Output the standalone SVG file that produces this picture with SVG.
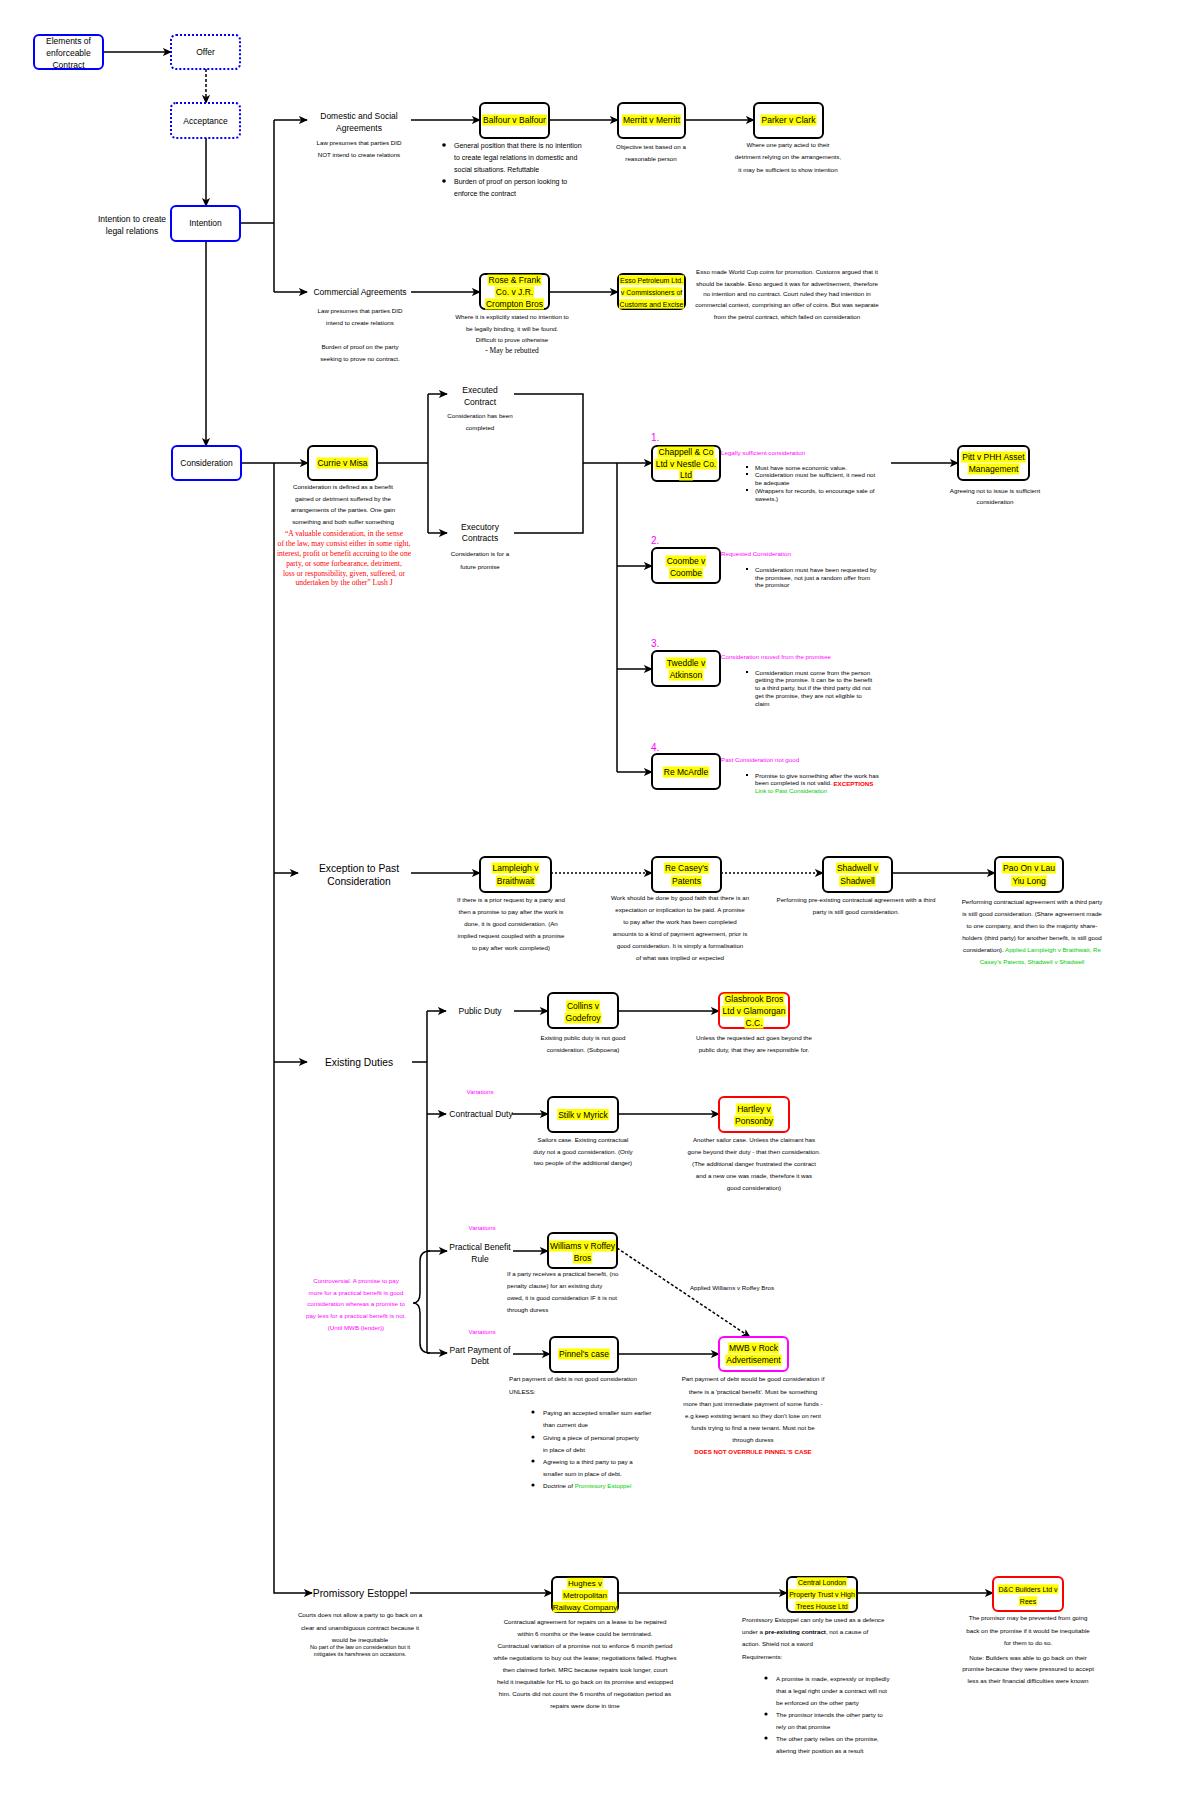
<svg xmlns="http://www.w3.org/2000/svg" width="1200" height="1800" viewBox="0 0 1200 1800">
<style>
text{font-family:"Liberation Sans",Arial,sans-serif;font-size:8.5px;text-anchor:middle;dominant-baseline:central;fill:#000}
.n{fill:#fff;stroke:#000;stroke-width:2}
.bl{fill:#fff;stroke:#0000ff;stroke-width:2}
.dot{stroke-dasharray:2,2}
.red{stroke:#ff0000}
.mag{stroke:#ff00ff}
.hl{fill:#ffff00}
.d{font-size:6.2px}
.s{text-anchor:start}
.big{font-size:10.3px}
.m{fill:#ff00ff}
.g{fill:#00cc00}
.r{fill:#ff0000}
.q{font-family:"Liberation Serif","Times New Roman",serif;font-size:7.6px;fill:#ff0000}
.c{fill:none;stroke:#000;stroke-width:1.5}
.ca{fill:none;stroke:#000;stroke-width:1.5;marker-end:url(#a)}
</style>
<defs>
<marker id="a" viewBox="0 0 10 10" refX="9" refY="5" markerWidth="9" markerHeight="9" markerUnits="userSpaceOnUse" orient="auto"><path d="M0,0.5 L10,5 L0,9.5 L2.5,5 z" fill="#000"/></marker>
</defs>
<rect width="1200" height="1800" fill="#fff"/>

<g id="connectors">
<path class="ca" d="M103,52 H171"/>
<path class="ca" d="M206,69 V103" stroke-dasharray="3,2"/>
<path class="ca" d="M206,138 V206"/>
<path class="c" d="M240,223 H274 M274,120 V292"/>
<path class="ca" d="M274,120 H307"/>
<path class="ca" d="M274,292 H307"/>
<path class="ca" d="M411,120 H480"/>
<path class="ca" d="M549,120 H618"/>
<path class="ca" d="M685,120 H754"/>
<path class="ca" d="M411,292 H480"/>
<path class="ca" d="M549,292 H618"/>
<path class="ca" d="M206,241 V446"/>
<path class="ca" d="M241,463 H308"/>
<path class="ca" d="M274,463 V1593 H312"/>
<path class="ca" d="M274,873 H298"/>
<path class="ca" d="M274,1062 H307"/>
<path class="c" d="M377,463 H428 M428,394 V533"/>
<path class="ca" d="M428,394 H447"/>
<path class="ca" d="M428,533 H447"/>
<path class="c" d="M514,394 H583 V533 H514"/>
<path class="ca" d="M583,463 H652"/>
<path class="c" d="M617,463 V772"/>
<path class="ca" d="M617,566 H652"/>
<path class="ca" d="M617,669 H652"/>
<path class="ca" d="M617,772 H652"/>
<path class="ca" d="M891,463 H958"/>
<path class="ca" d="M411,873 H480"/>
<path class="ca" d="M551,873 H652" stroke-dasharray="2,2"/>
<path class="ca" d="M721,873 H823" stroke-dasharray="2,2"/>
<path class="ca" d="M892,873 H995"/>
<path class="c" d="M412,1062 H427 M427,1011 V1353"/>
<path class="ca" d="M427,1011 H446"/>
<path class="ca" d="M427,1114 H446"/>
<path class="ca" d="M427,1251 H447"/>
<path class="ca" d="M427,1353 H447"/>
<path class="c" d="M430,1251 Q420,1251 420,1261 L420,1293 Q420,1303 413,1303 Q420,1303 420,1313 L420,1343 Q420,1353 430,1353"/>
<path class="ca" d="M514,1011 H548"/>
<path class="ca" d="M618,1011 H719"/>
<path class="ca" d="M512,1114 H548"/>
<path class="ca" d="M618,1114 H719"/>
<path class="ca" d="M513,1251 H548"/>
<path class="ca" d="M617,1248 L750,1337" stroke-dasharray="3,2"/>
<text x="732" y="1287" class="d">Applied Williams v Roffey Bros</text>
<path class="ca" d="M513,1354 H550"/>
<path class="ca" d="M618,1354 H719"/>
<path class="ca" d="M410,1593 H552"/>
<path class="ca" d="M618,1593 H787"/>
<path class="ca" d="M857,1593 H993"/>
</g>

<g id="elements">
<rect class="bl" x="34" y="35" width="69" height="34" rx="5"/>
<text x="68.5" y="41">Elements of</text><text x="68.5" y="53">enforceable</text><text x="68.5" y="64.5">Contract</text>
</g>
<g id="offer">
<rect class="bl dot" x="171" y="35" width="69" height="34" rx="5"/>
<text x="205.5" y="52">Offer</text>
</g>
<g id="acceptance">
<rect class="bl dot" x="171" y="103" width="69" height="35" rx="5"/>
<text x="205.5" y="121">Acceptance</text>
</g>
<g id="intention">
<rect class="bl" x="171" y="206" width="69" height="35" rx="5"/>
<text x="205.5" y="223">Intention</text>
<text x="132" y="219">Intention to create</text><text x="132" y="231">legal relations</text>
</g>
<g id="consideration">
<rect class="bl" x="172" y="446" width="69" height="34" rx="5"/>
<text x="206.5" y="463">Consideration</text>
</g>

<g id="domestic">
<text x="359" y="116">Domestic and Social</text><text x="359" y="128">Agreements</text>
<text class="d" x="359" y="142">Law presumes that parties DID</text><text class="d" x="359" y="154">NOT intend to create relations</text>
</g>
<g id="commercial">
<text x="360" y="292">Commercial Agreements</text>
<text class="d" x="360" y="310">Law presumes that parties DID</text><text class="d" x="360" y="322">intend to create relations</text>
<text class="d" x="360" y="346">Burden of proof on the party</text><text class="d" x="360" y="358">seeking to prove no contract.</text>
</g>

<g id="balfour">
<rect class="n" x="480" y="103" width="69" height="35" rx="5"/>
<rect class="hl" x="482" y="114.5" width="65" height="11"/>
<text x="514.5" y="120">Balfour v Balfour</text>
<circle cx="444" cy="145" r="1.8"/><circle cx="444" cy="181" r="1.8"/>
<text class="s" x="454" y="145" style="font-size:7px">General position that there is no intention</text>
<text class="s" x="454" y="157" style="font-size:7px">to create legal relations in domestic and</text>
<text class="s" x="454" y="169" style="font-size:7px">social situations. Refuttable</text>
<text class="s" x="454" y="181" style="font-size:7px">Burden of proof on person looking to</text>
<text class="s" x="454" y="193" style="font-size:7px">enforce the contract</text>
</g>
<g id="merritt">
<rect class="n" x="618" y="103" width="67" height="35" rx="5"/>
<rect class="hl" x="622" y="114.5" width="59" height="11"/>
<text x="651.5" y="120">Merritt v Merritt</text>
<text class="d" x="651" y="146">Objective test based on a</text><text class="d" x="651" y="158">reasonable person</text>
</g>
<g id="parker">
<rect class="n" x="754" y="103" width="69" height="35" rx="5"/>
<rect class="hl" x="760.6" y="114.5" width="56" height="11"/>
<text x="788.5" y="120">Parker v Clark</text>
<text class="d" x="788" y="144">Where one party acted to their</text>
<text class="d" x="788" y="156">detriment relying on the arrangements,</text>
<text class="d" x="788" y="169">it may be sufficient to show intention</text>
</g>
<g id="rose">
<rect class="n" x="480" y="274" width="69" height="35" rx="5"/>
<rect class="hl" x="487.5" y="274.5" width="54" height="11"/>
<rect class="hl" x="494.9" y="286.5" width="39.3" height="11"/>
<rect class="hl" x="485" y="298.5" width="59" height="11"/>
<text x="514.5" y="280">Rose &amp; Frank</text><text x="514.5" y="292">Co. v J.R.</text><text x="514.5" y="304">Crompton Bros</text>
<text class="d" x="512" y="316">Where it is explicitly stated no intention to</text>
<text class="d" x="512" y="328">be legally binding, it will be found.</text>
<text class="d" x="512" y="339">Difficult to prove otherwise</text>
<text x="512" y="350" style="font-family:'Liberation Serif','Times New Roman',serif;font-size:7.5px">- May be rebutted</text>
</g>
<g id="esso">
<rect class="n" x="618" y="274" width="67" height="35" rx="5"/>
<rect class="hl" x="619" y="275.3" width="65" height="9.4"/>
<rect class="hl" x="621" y="287.3" width="61" height="9.4"/>
<rect class="hl" x="619" y="299.3" width="65" height="9.4"/>
<text x="651.5" y="280" style="font-size:7px">Esso Petroleum Ltd.</text>
<text x="651.5" y="292" style="font-size:7px">v Commissioners of</text>
<text x="651.5" y="304" style="font-size:7px">Customs and Excise</text>
<text class="d" x="787" y="271">Esso made World Cup coins for promotion. Customs argued that it</text>
<text class="d" x="787" y="283">should be taxable. Esso argued it was for advertisement, therefore</text>
<text class="d" x="787" y="293">no intention and no contract. Court ruled they had intention in</text>
<text class="d" x="787" y="304">commercial context, comprising an offer of coins. But was separate</text>
<text class="d" x="787" y="316">from the petrol contract, which failed on consideration</text>
</g>

<g id="currie">
<rect class="n" x="308" y="446" width="69" height="34" rx="5"/>
<rect class="hl" x="316.5" y="457.5" width="52" height="11"/>
<text x="342.5" y="463">Currie v Misa</text>
<text class="d" x="343" y="486">Consideration is defined as a benefit</text>
<text class="d" x="343" y="498">gained or detriment suffered by the</text>
<text class="d" x="343" y="509">arrangements of the parties. One gain</text>
<text class="d" x="343" y="521">something and both suffer something</text>
<text class="q" x="344" y="533">“A valuable consideration, in the sense</text>
<text class="q" x="344" y="543">of the law, may consist either in some right,</text>
<text class="q" x="344" y="553">interest, profit or benefit accruing to the one</text>
<text class="q" x="344" y="563">party, or some forbearance, detriment,</text>
<text class="q" x="344" y="573">loss or responsibility, given, suffered, or</text>
<text class="q" x="344" y="582">undertaken by the other” Lush J</text>
</g>
<g id="executed">
<text x="480" y="390">Executed</text><text x="480" y="402">Contract</text>
<text class="d" x="480" y="415">Consideration has been</text><text class="d" x="480" y="427">completed</text>
</g>
<g id="executory">
<text x="480" y="527">Executory</text><text x="480" y="538">Contracts</text>
<text class="d" x="480" y="553">Consideration is for a</text><text class="d" x="480" y="566">future promise</text>
</g>

<g id="chappell">
<text class="s m" x="651" y="437" style="font-size:10px">1.</text>
<rect class="n" x="652" y="446" width="68" height="35" rx="5"/>
<rect class="hl" x="657.5" y="446.5" width="57" height="11"/>
<rect class="hl" x="654.7" y="458.5" width="62.5" height="11"/>
<rect class="hl" x="679.1" y="469.5" width="13.8" height="11"/>
<text x="686" y="452">Chappell &amp; Co</text><text x="686" y="464">Ltd v Nestle Co.</text><text x="686" y="475">Ltd</text>
<text class="d s m" x="721" y="452">Legally sufficient consideration</text>
<rect x="746" y="466" width="2" height="2"/><rect x="746" y="473" width="2" height="2"/><rect x="746" y="489" width="2" height="2"/>
<text class="d s" x="755" y="467">Must have some economic value.</text>
<text class="d s" x="755" y="474.5">Consideration must be sufficient, it need not</text>
<text class="d s" x="755" y="482">be adequate</text>
<text class="d s" x="755" y="490">(Wrappers for records, to encourage sale of</text>
<text class="d s" x="755" y="498">sweets.)</text>
</g>
<g id="pitt">
<rect class="n" x="958" y="446" width="71" height="34" rx="5"/>
<rect class="hl" x="961.1" y="451.5" width="64.8" height="11"/>
<rect class="hl" x="967.7" y="463.5" width="51.6" height="11"/>
<text x="993.5" y="457">Pitt v PHH Asset</text><text x="993.5" y="469">Management</text>
<text class="d" x="995" y="490">Agreeing not to issue is sufficient</text><text class="d" x="995" y="501">consideration</text>
</g>
<g id="coombe">
<text class="s m" x="651" y="540" style="font-size:10px">2.</text>
<rect class="n" x="652" y="548" width="68" height="35" rx="5"/>
<rect class="hl" x="665.6" y="555.5" width="40.7" height="11"/>
<rect class="hl" x="668.9" y="567.5" width="34.1" height="11"/>
<text x="686" y="561">Coombe v</text><text x="686" y="573">Coombe</text>
<text class="d s m" x="721" y="553">Requested Consideration</text>
<rect x="746" y="568" width="2" height="2"/>
<text class="d s" x="755" y="569">Consideration must have been requested by</text>
<text class="d s" x="755" y="577">the promisee, not just a random offer from</text>
<text class="d s" x="755" y="584.5">the promisor</text>
</g>
<g id="tweddle">
<text class="s m" x="651" y="643" style="font-size:10px">3.</text>
<rect class="n" x="652" y="651" width="68" height="35" rx="5"/>
<rect class="hl" x="665.6" y="657.5" width="40.7" height="11"/>
<rect class="hl" x="668.7" y="669.5" width="34.6" height="11"/>
<text x="686" y="663">Tweddle v</text><text x="686" y="675">Atkinson</text>
<text class="d s m" x="721" y="656">Consideration moved from the promisee</text>
<rect x="746" y="671" width="2" height="2"/>
<text class="d s" x="755" y="672">Consideration must come from the person</text>
<text class="d s" x="755" y="679.5">getting the promise. It can be to the benefit</text>
<text class="d s" x="755" y="687">to a third party, but if the third party did not</text>
<text class="d s" x="755" y="695">get the promise, they are not eligible to</text>
<text class="d s" x="755" y="703">claim</text>
</g>
<g id="mcardle">
<text class="s m" x="651" y="747" style="font-size:10px">4.</text>
<rect class="n" x="652" y="754" width="68" height="35" rx="5"/>
<rect class="hl" x="662.8" y="766.5" width="46.4" height="11"/>
<text x="686" y="772">Re McArdle</text>
<text class="d s m" x="721" y="759">Past Consideration not good</text>
<rect x="746" y="774" width="2" height="2"/>
<text class="d s" x="755" y="775">Promise to give something after the work has</text>
<text class="d s" x="755" y="782.5">been completed is not valid. <tspan class="r" font-weight="bold">EXCEPTIONS</tspan></text>
<text class="d s g" x="755" y="790">Link to Past Consideration</text>
</g>

<g id="exception">
<text class="big" x="359" y="868">Exception to Past</text><text class="big" x="359" y="881">Consideration</text>
</g>
<g id="lampleigh">
<rect class="n" x="480" y="857" width="71" height="35" rx="5"/>
<rect class="hl" x="491.6" y="862.5" width="47.8" height="11"/>
<rect class="hl" x="495.9" y="875.5" width="39.3" height="11"/>
<text x="515.5" y="868">Lampleigh v</text><text x="515.5" y="881">Braithwait</text>
<text class="d" x="511" y="899">If there is a prior request by a party and</text>
<text class="d" x="511" y="911">then a promise to pay after the work is</text>
<text class="d" x="511" y="923">done, it is good consideration. (An</text>
<text class="d" x="511" y="935">implied request coupled with a promise</text>
<text class="d" x="511" y="947">to pay after work completed)</text>
</g>
<g id="casey">
<rect class="n" x="652" y="857" width="69" height="35" rx="5"/>
<rect class="hl" x="663.9" y="862.5" width="45.2" height="11"/>
<rect class="hl" x="671.1" y="875.5" width="30.8" height="11"/>
<text x="686.5" y="868">Re Casey's</text><text x="686.5" y="881">Patents</text>
<text class="d" x="680" y="897">Work should be done by good faith that there is an</text>
<text class="d" x="680" y="909">expectation or implication to be paid. A promise</text>
<text class="d" x="680" y="921">to pay after the work has been completed</text>
<text class="d" x="680" y="933">amounts to a kind of payment agreement, prior is</text>
<text class="d" x="680" y="945">good consideration. It is simply a formalisation</text>
<text class="d" x="680" y="957">of what was implied or expected</text>
</g>
<g id="shadwell">
<rect class="n" x="823" y="857" width="69" height="35" rx="5"/>
<rect class="hl" x="835.9" y="862.5" width="43.1" height="11"/>
<rect class="hl" x="839.2" y="875.5" width="36.5" height="11"/>
<text x="857.5" y="868">Shadwell v</text><text x="857.5" y="881">Shadwell</text>
<text class="d" x="856" y="899">Performing pre-existing contractual agreement with a third</text>
<text class="d" x="856" y="911">party is still good consideration.</text>
</g>
<g id="paoon">
<rect class="n" x="995" y="857" width="68" height="35" rx="5"/>
<rect class="hl" x="1002" y="862.5" width="54" height="11"/>
<rect class="hl" x="1011.2" y="875.5" width="35.5" height="11"/>
<text x="1029" y="868">Pao On v Lau</text><text x="1029" y="881">Yiu Long</text>
<text class="d" x="1032" y="901">Performing contractual agreement with a third party</text>
<text class="d" x="1032" y="913">is still good consideration. (Share agreement made</text>
<text class="d" x="1032" y="925">to one company, and then to the majority share-</text>
<text class="d" x="1032" y="937">holders (third party) for another benefit, is still good</text>
<text class="d" x="1032" y="949">consideration). <tspan class="g">Applied Lampleigh v Braithwait, Re</tspan></text>
<text class="d g" x="1032" y="961">Casey's Patents, Shadwell v Shadwell</text>
</g>

<g id="existing">
<text class="big" x="359" y="1062">Existing Duties</text>
</g>
<g id="public">
<text x="480" y="1011">Public Duty</text>
</g>
<g id="collins">
<rect class="n" x="548" y="993" width="70" height="35" rx="5"/>
<rect class="hl" x="566" y="1000.5" width="34.1" height="11"/>
<rect class="hl" x="564.5" y="1012.5" width="37" height="11"/>
<text x="583" y="1006">Collins v</text><text x="583" y="1018">Godefroy</text>
<text class="d" x="583" y="1037">Existing public duty is not good</text>
<text class="d" x="583" y="1049">consideration. (Subpoena)</text>
</g>
<g id="glasbrook">
<rect class="n red" x="719" y="993" width="70" height="35" rx="5"/>
<rect class="hl" x="723.7" y="993.5" width="60.6" height="11"/>
<rect class="hl" x="721.6" y="1005.5" width="64.8" height="11"/>
<rect class="hl" x="744.5" y="1017.5" width="19" height="11"/>
<text x="754" y="999">Glasbrook Bros</text><text x="754" y="1011">Ltd v Glamorgan</text><text x="754" y="1023">C.C.</text>
<text class="d" x="754" y="1037">Unless the requested act goes beyond the</text>
<text class="d" x="754" y="1049">public duty, that they are responsible for.</text>
</g>
<g id="contractual">
<text class="d m" x="480" y="1091">Variations</text>
<text x="481" y="1114">Contractual Duty</text>
</g>
<g id="stilk">
<rect class="n" x="548" y="1097" width="70" height="35" rx="5"/>
<rect class="hl" x="557.2" y="1109" width="51.6" height="11"/>
<text x="583" y="1114.5">Stilk v Myrick</text>
<text class="d" x="583" y="1139">Sailors case. Existing contractual</text>
<text class="d" x="583" y="1151">duty not a good consideration. (Only</text>
<text class="d" x="583" y="1162">two people of the additional danger)</text>
</g>
<g id="hartley">
<rect class="n red" x="719" y="1097" width="70" height="35" rx="5"/>
<rect class="hl" x="736.2" y="1103.5" width="35.5" height="11"/>
<rect class="hl" x="734.1" y="1115.5" width="39.8" height="11"/>
<text x="754" y="1109">Hartley v</text><text x="754" y="1121">Ponsonby</text>
<text class="d" x="754" y="1139">Another sailor case. Unless the claimant has</text>
<text class="d" x="754" y="1151">gone beyond their duty - that then consideration.</text>
<text class="d" x="754" y="1163">(The additional danger frustrated the contract</text>
<text class="d" x="754" y="1175">and a new one was made, therefore it was</text>
<text class="d" x="754" y="1187">good consideration)</text>
</g>
<g id="practical">
<text class="d m" x="482" y="1227">Variations</text>
<text x="480" y="1247">Practical Benefit</text><text x="480" y="1259">Rule</text>
<text class="d m" x="356" y="1280">Controversial. A promise to pay</text>
<text class="d m" x="356" y="1292">more for a practical benefit is good</text>
<text class="d m" x="356" y="1303">consideration whereas a promise to</text>
<text class="d m" x="356" y="1315">pay less for a practical benefit is not.</text>
<text class="d m" x="356" y="1327">(Until MWB (lender))</text>
</g>
<g id="williams">
<rect class="n" x="548" y="1233" width="69" height="35" rx="5"/>
<rect class="hl" x="548.9" y="1240.5" width="67.2" height="11"/>
<rect class="hl" x="572.8" y="1252.5" width="19.5" height="11"/>
<text x="582.5" y="1246">Williams v Roffey</text><text x="582.5" y="1258">Bros</text>
<text class="d s" x="507" y="1273">If a party receives a practical benefit, (no</text>
<text class="d s" x="507" y="1285">penalty clause) for an existing duty</text>
<text class="d s" x="507" y="1297">owed, it is good consideration IF it is not</text>
<text class="d s" x="507" y="1309">through duress</text>
</g>
<g id="partpayment">
<text class="d m" x="482" y="1331">Variations</text>
<text x="480" y="1350">Part Payment of</text><text x="480" y="1361">Debt</text>
</g>
<g id="pinnel">
<rect class="n" x="550" y="1337" width="68" height="35" rx="5"/>
<rect class="hl" x="558.1" y="1348.5" width="51.8" height="11"/>
<text x="584" y="1354">Pinnel's case</text>
<text class="d s" x="509" y="1378">Part payment of debt is not good consideration</text>
<text class="d s" x="509" y="1391">UNLESS:</text>
<circle cx="533" cy="1412" r="1.6"/><circle cx="533" cy="1437" r="1.6"/><circle cx="533" cy="1461" r="1.6"/><circle cx="533" cy="1485" r="1.6"/>
<text class="d s" x="543" y="1412">Paying an accepted smaller sum earlier</text>
<text class="d s" x="543" y="1424">than current due</text>
<text class="d s" x="543" y="1437">Giving a piece of personal property</text>
<text class="d s" x="543" y="1449">in place of debt</text>
<text class="d s" x="543" y="1461">Agreeing to a third party to pay a</text>
<text class="d s" x="543" y="1473">smaller sum in place of debt.</text>
<text class="d s" x="543" y="1485">Doctrine of <tspan class="g">Promissory Estoppel</tspan></text>
</g>
<g id="mwb">
<rect class="n mag" x="719" y="1337" width="69" height="34" rx="5"/>
<rect class="hl" x="728" y="1342.5" width="51" height="11"/>
<rect class="hl" x="725.3" y="1354.5" width="56.3" height="11"/>
<text x="753.5" y="1348">MWB v Rock</text><text x="753.5" y="1360">Advertisement</text>
<text class="d" x="753" y="1378">Part payment of debt would be good consideration if</text>
<text class="d" x="753" y="1391">there is a 'practical benefit'. Must be something</text>
<text class="d" x="753" y="1403">more than just immediate payment of some funds -</text>
<text class="d" x="753" y="1415">e.g keep existing tenant so they don't lose on rent</text>
<text class="d" x="753" y="1427">funds trying to find a new tenant. Must not be</text>
<text class="d" x="753" y="1439">through duress</text>
<text class="d r" x="753" y="1451" font-weight="bold">DOES NOT OVERRULE PINNEL'S CASE</text>
</g>

<g id="promissory">
<text class="big" x="360" y="1593">Promissory Estoppel</text>
<text class="d" x="360" y="1614">Courts does not allow a party to go back on a</text>
<text class="d" x="360" y="1627">clear and unambiguous contract because it</text>
<text class="d" x="360" y="1639">would be inequitable</text>
<text x="360" y="1647" style="font-size:5.6px">No part of the law on consideration but it</text>
<text x="360" y="1654" style="font-size:5.6px">mitigates its harshness on occasions.</text>
</g>
<g id="hughes">
<rect class="n" x="552" y="1577" width="66" height="35" rx="5"/>
<rect class="hl" x="567.1" y="1577.8" width="35.8" height="10.4"/>
<rect class="hl" x="562" y="1589.8" width="46" height="10.4"/>
<rect class="hl" x="552.8" y="1601.8" width="64.5" height="10.4"/>
<text x="585" y="1583" style="font-size:8px">Hughes v</text><text x="585" y="1595" style="font-size:8px">Metropolitan</text><text x="585" y="1607" style="font-size:8px">Railway Company</text>
<text class="d" x="585" y="1621">Contractual agreement for repairs on a lease to be repaired</text>
<text class="d" x="585" y="1633">within 6 months or the lease could be terminated.</text>
<text class="d" x="585" y="1645">Contractual variation of a promise not to enforce 6 month period</text>
<text class="d" x="585" y="1657">while negotiations to buy out the lease; negotiations failed. Hughes</text>
<text class="d" x="585" y="1669">then claimed forfeit. MRC because repairs took longer, court</text>
<text class="d" x="585" y="1681">held it inequitable for HL to go back on its promise and estopped</text>
<text class="d" x="585" y="1693">him. Courts did not count the 6 months of negotiation period as</text>
<text class="d" x="585" y="1705">repairs were done in time</text>
</g>
<g id="central">
<rect class="n" x="787" y="1577" width="70" height="35" rx="5"/>
<rect class="hl" x="797.1" y="1577.3" width="49.9" height="9.4"/>
<rect class="hl" x="788" y="1589.3" width="68" height="9.4"/>
<rect class="hl" x="795.2" y="1601.3" width="53.7" height="9.4"/>
<text x="822" y="1582" style="font-size:7px">Central London</text><text x="822" y="1594" style="font-size:7px">Property Trust v High</text><text x="822" y="1606" style="font-size:7px">Trees House Ltd</text>
<text class="d s" x="742" y="1619">Promissory Estoppel can only be used as a defence</text>
<text class="d s" x="742" y="1631">under a <tspan font-weight="bold">pre-existing contract</tspan>, not a cause of</text>
<text class="d s" x="742" y="1643">action. Shield not a sword</text>
<text class="d s" x="742" y="1656">Requirements:</text>
<circle cx="766" cy="1678" r="1.6"/><circle cx="766" cy="1714" r="1.6"/><circle cx="766" cy="1738" r="1.6"/>
<text class="d s" x="776" y="1678">A promise is made, expressly or impliedly</text>
<text class="d s" x="776" y="1690">that a legal right under a contract will not</text>
<text class="d s" x="776" y="1702">be enforced on the other party</text>
<text class="d s" x="776" y="1714">The promisor intends the other party to</text>
<text class="d s" x="776" y="1726">rely on that promise</text>
<text class="d s" x="776" y="1738">The other party relies on the promise,</text>
<text class="d s" x="776" y="1750">altering their position as a result</text>
</g>
<g id="dc">
<rect class="n red" x="993" y="1577" width="70" height="34" rx="5"/>
<rect class="hl" x="997.5" y="1584.3" width="61" height="9.4"/>
<rect class="hl" x="1018.9" y="1596.3" width="18.3" height="9.4"/>
<text x="1028" y="1589" style="font-size:7px">D&amp;C Builders Ltd v</text><text x="1028" y="1601" style="font-size:7px">Rees</text>
<text class="d" x="1028" y="1617">The promisor may be prevented from going</text>
<text class="d" x="1028" y="1630">back on the promise if it would be inequitable</text>
<text class="d" x="1028" y="1642">for them to do so.</text>
<text class="d" x="1028" y="1657">Note: Builders was able to go back on their</text>
<text class="d" x="1028" y="1668">promise because they were pressured to accept</text>
<text class="d" x="1028" y="1680">less as their financial difficulties were known</text>
</g>
</svg>
